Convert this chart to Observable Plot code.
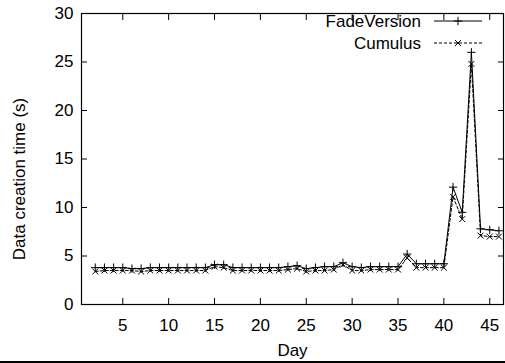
<!DOCTYPE html>
<html><head><meta charset="utf-8">
<script src="https://cdn.jsdelivr.net/npm/d3@7"></script>
<script src="https://cdn.jsdelivr.net/npm/@observablehq/plot@0.6"></script>
<style>
body{margin:0;background:#fff}
#bar{height:2px;background:#000;width:505px}
</style>
</head><body>
<div id="chart"></div><div id="bar"></div>
<script>
const days = [2,3,4,5,6,7,8,9,10,11,12,13,14,15,16,17,18,19,20,21,22,23,24,25,26,27,28,29,30,31,32,33,34,35,36,37,38,39,40,41,42,43,44,45,46];
const fadeVersion = [3.8,3.8,3.8,3.8,3.7,3.7,3.8,3.8,3.8,3.8,3.8,3.8,3.8,4.1,4.1,3.8,3.8,3.8,3.8,3.8,3.8,3.9,4.0,3.7,3.8,3.9,3.9,4.3,3.9,3.8,3.9,3.9,3.9,3.9,5.2,4.2,4.2,4.2,4.2,12.1,9.5,26.0,7.8,7.7,7.6];
const cumulus = [3.4,3.5,3.5,3.5,3.5,3.4,3.5,3.5,3.5,3.5,3.5,3.5,3.5,3.9,3.8,3.5,3.5,3.5,3.5,3.5,3.5,3.6,3.7,3.4,3.5,3.5,3.6,4.1,3.5,3.5,3.6,3.6,3.6,3.6,4.8,3.8,3.8,3.8,3.8,11.1,8.8,24.8,7.1,7.0,7.0];
const xTicks = [5,10,15,20,25,30,35,40,45];
const yTicks = [0,5,10,15,20,25,30];
const seriesNames = ["FadeVersion","Cumulus"];
const xLabel = "Day";
const yLabel = "Data creation time (s)";

const fade = days.map((d,i)=>({day:d, value:fadeVersion[i]}));
const cum = days.map((d,i)=>({day:d, value:cumulus[i]}));

const plot = Plot.plot({
  width: 505, height: 361,
  marginLeft: 81, marginRight: 2, marginTop: 13, marginBottom: 57,
  style: {fontFamily: "'Liberation Sans', Arial, sans-serif", fontSize: "17px", color: "#000", background: "#fff", overflow: "visible"},
  x: {domain: [0.5, 46.5]},
  y: {domain: [0, 30]},
  marks: [
    Plot.axisX({ticks: xTicks, tickSize: -6, tickPadding: 20, label: xLabel, labelAnchor: "center", labelArrow: "none", labelOffset: 51}),
    Plot.axisX({anchor: "top", ticks: xTicks, tickSize: -6, tickFormat: () => "", label: null}),
    Plot.axisY({ticks: yTicks, tickSize: -6, tickPadding: 14, label: null}),
    Plot.axisY({anchor: "right", ticks: yTicks, tickSize: -6, tickFormat: () => "", label: null}),
    Plot.text([yLabel], {frameAnchor: "left", text: d => d, rotate: -90, textAnchor: "middle", lineAnchor: "middle", dx: -62, dy: 20, fill: "#000", fontSize: 17}),
    Plot.line(cum, {x: "day", y: "value", stroke: "#000", strokeWidth: 1, strokeDasharray: "3,2"}),
    Plot.dot(cum, {x: "day", y: "value", symbol: "times", r: 2.8, stroke: "#000", strokeWidth: 1}),
    Plot.line(fade, {x: "day", y: "value", stroke: "#000", strokeWidth: 1}),
    Plot.dot(fade, {x: "day", y: "value", symbol: "plus", r: 2.8, stroke: "#000", strokeWidth: 1}),
    Plot.frame({stroke: "#000", strokeWidth: 1.2})
  ]
});
document.getElementById("chart").appendChild(plot);

// legend (top-right, inside the frame)
const svg = d3.select(plot);
const lg = svg.append("g").attr("font-family", "'Liberation Sans', Arial, sans-serif").attr("font-size", 17);
const styles = [{dash: null, sym: d3.symbolPlus}, {dash: "3,2", sym: d3.symbolTimes}];
seriesNames.forEach((name, i) => {
  const cy = 21 + i * 22;
  lg.append("text").attr("x", 421).attr("y", cy).attr("dy", "0.35em").attr("text-anchor", "end").attr("fill", "#000").text(name);
  lg.append("line").attr("x1", 434).attr("x2", 482).attr("y1", cy).attr("y2", cy).attr("stroke", "#000").attr("stroke-width", 1).attr("stroke-dasharray", styles[i].dash);
  lg.append("path").attr("transform", `translate(458,${cy})`).attr("d", d3.symbol(styles[i].sym, Math.PI * 2.8 * 2.8)()).attr("stroke", "#000").attr("fill", "none");
});
</script>
</body></html>
